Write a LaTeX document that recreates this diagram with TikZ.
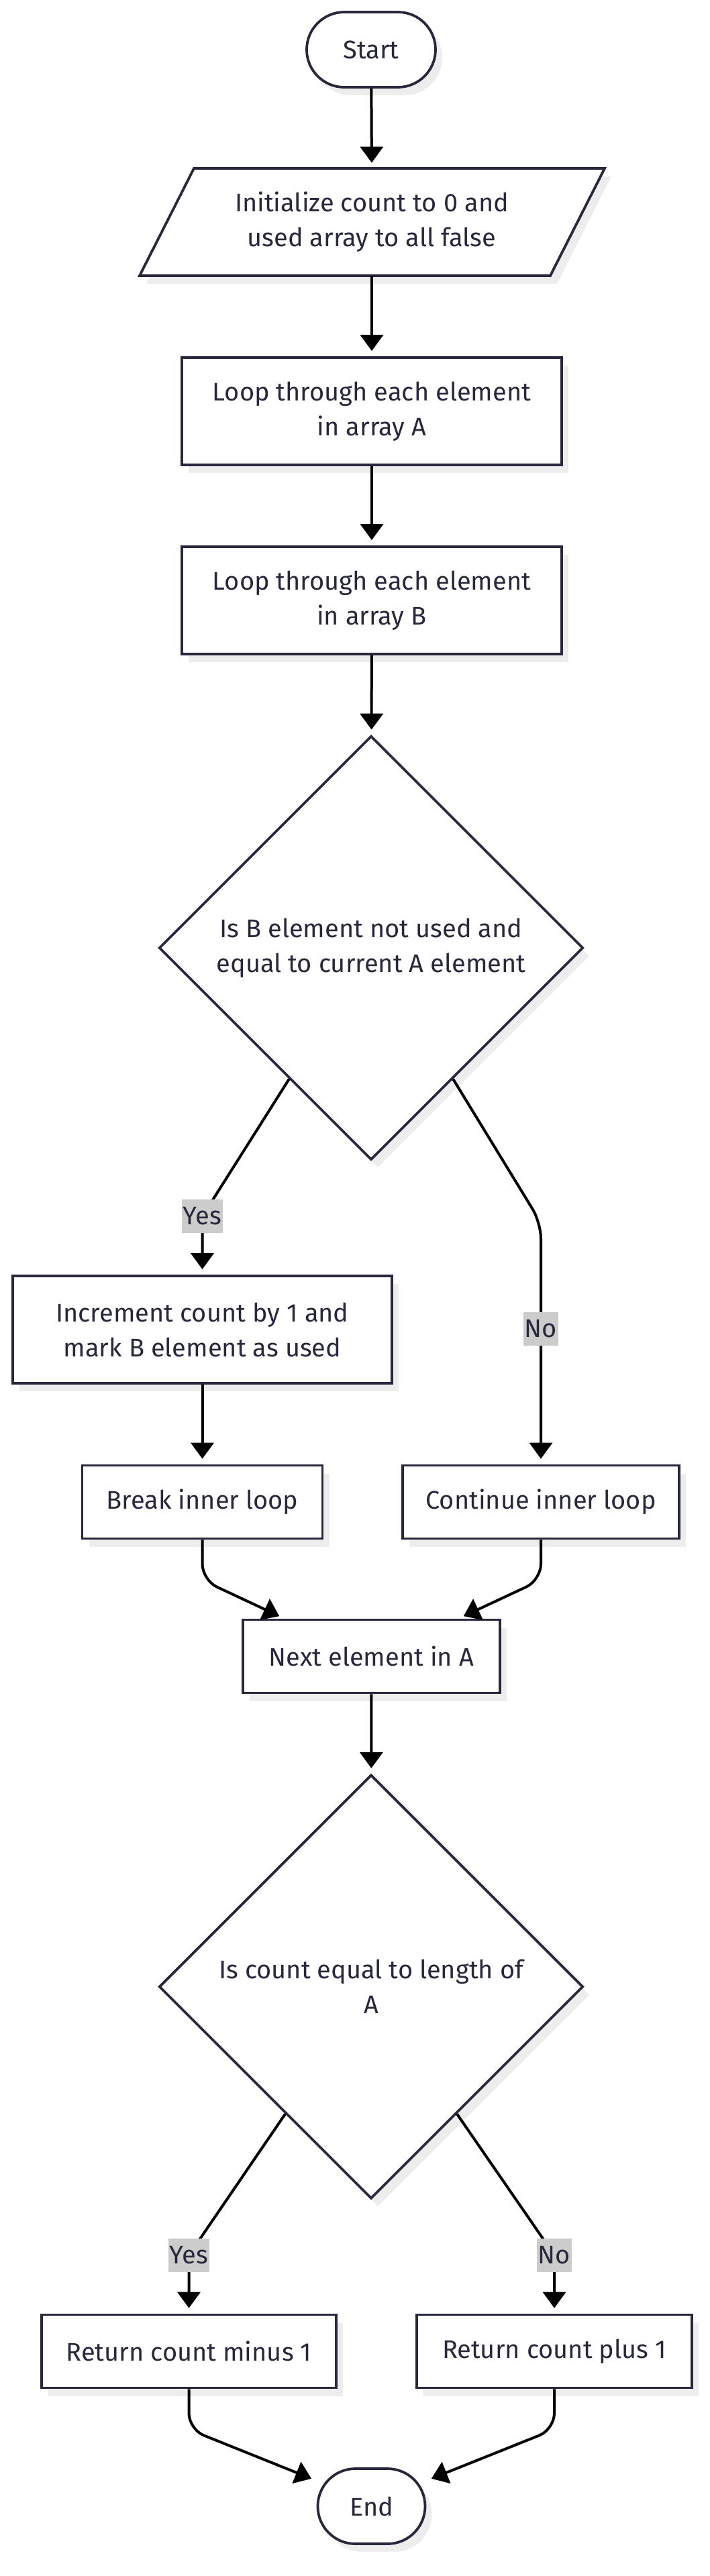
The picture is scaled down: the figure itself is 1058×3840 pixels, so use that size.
\documentclass[tikz,border=0pt]{standalone}
\usepackage{fontspec}
\setmainfont{Fira Sans}
\usetikzlibrary{arrows.meta,positioning,shapes.geometric,shadows,calc}
\definecolor{inkline}{HTML}{28283C}
\definecolor{shadowgray}{HTML}{EDEDED}
\definecolor{lblgray}{HTML}{CCCCCC}

\tikzset{
  base/.style={draw=inkline, line width=1.9pt, fill=white, text=inkline, align=center,
    font=\fontsize{19}{26}\selectfont,
    drop shadow={shadow xshift=5pt, shadow yshift=-6pt, fill=shadowgray, opacity=1}},
  term/.style={base, rectangle, rounded corners=28pt, minimum height=56pt},
  proc/.style={base, rectangle, minimum height=80pt},
  procs/.style={base, rectangle, minimum height=54.5pt},
  dec/.style={base, diamond, aspect=1, inner sep=0pt, minimum width=316pt, minimum height=316pt},
  flow/.style={-{Triangle[length=12pt,width=17pt]}, line width=2pt, black,
    shorten >=4pt, rounded corners=12pt},
  edgelbl/.style={sharp corners, fill=lblgray, text=inkline, font=\fontsize{19}{24}\selectfont,
    inner xsep=1pt, inner ysep=0pt, minimum height=25pt}
}

\begin{document}
\begin{tikzpicture}[x=0.5pt,y=-0.5pt]
\useasboundingbox (0,0) rectangle (1058,3840);

% nodes
\node[term, minimum width=96pt] (start) at (553,74) {Start};

\coordinate (initc) at (554,331);
\draw[base] ($(initc)+(-346,80)$) -- ($(initc)+(-265,-80)$) -- ($(initc)+(347,-80)$)
  -- ($(initc)+(266,80)$) -- cycle;
\node[align=center, text=inkline, font=\fontsize{19}{26}\selectfont,
  minimum width=306pt, minimum height=80pt] (init) at (initc)
  {Initialize count to 0 and\\used array to all false};

\node[proc, minimum width=283pt] (loopA) at (554,613) {Loop through each element\\in array A};
\node[proc, minimum width=283pt] (loopB) at (554,895) {Loop through each element\\in array B};
\node[dec] (chk1) at (553,1413) {Is B element not used and\\equal to current A element};
\node[proc, minimum width=282.5pt] (incr) at (301.5,1982) {Increment count by 1 and\\mark B element as used};
\node[procs, minimum width=179pt] (brk) at (301.5,2239) {Break inner loop};
\node[procs, minimum width=206pt] (cont) at (806,2239) {Continue inner loop};
\node[procs, minimum width=191.5pt] (nxt) at (553.5,2469) {Next element in A};
\node[dec] (chk2) at (553,2961.5) {Is count equal to length of\\A};
\node[procs, minimum width=219.5pt] (retm) at (281.5,3505) {Return count minus 1};
\node[procs, minimum width=205pt] (retp) at (826,3505) {Return count plus 1};
\node[term, minimum width=80pt] (end) at (553.5,3736) {End};

% connectors
\draw[flow] (start) -- (init.north);
\draw[flow] (init) -- (loopA);
\draw[flow] (loopA) -- (loopB);
\draw[flow] (loopB) -- (chk1);
\draw[flow] (chk1.238) -- ([yshift=43.5pt]incr.north) node[edgelbl] {Yes} -- (incr.north);
\draw[flow] (chk1.302) -- ([yshift=180pt]cont.north) -- (cont.north) node[edgelbl, pos=0.44] {No};
\draw[flow] (incr) -- (brk);
\draw[flow] (brk.south) -- ([yshift=-30pt]brk.south) -- ([xshift=-65pt]nxt.north);
\draw[flow] (cont.south) -- ([yshift=-30pt]cont.south) -- ([xshift=65pt]nxt.north);
\draw[flow] (nxt) -- (chk2);
\draw[flow] (chk2.236) -- ([yshift=43.5pt]retm.north) node[edgelbl] {Yes} -- (retm.north);
\draw[flow] (chk2.304) -- ([yshift=43.5pt]retp.north) node[edgelbl] {No} -- (retp.north);
\draw[flow] (retm.south) -- ([yshift=-30pt]retm.south) -- (end.155);
\draw[flow] (retp.south) -- ([yshift=-30pt]retp.south) -- (end.25);
\end{tikzpicture}
\end{document}
